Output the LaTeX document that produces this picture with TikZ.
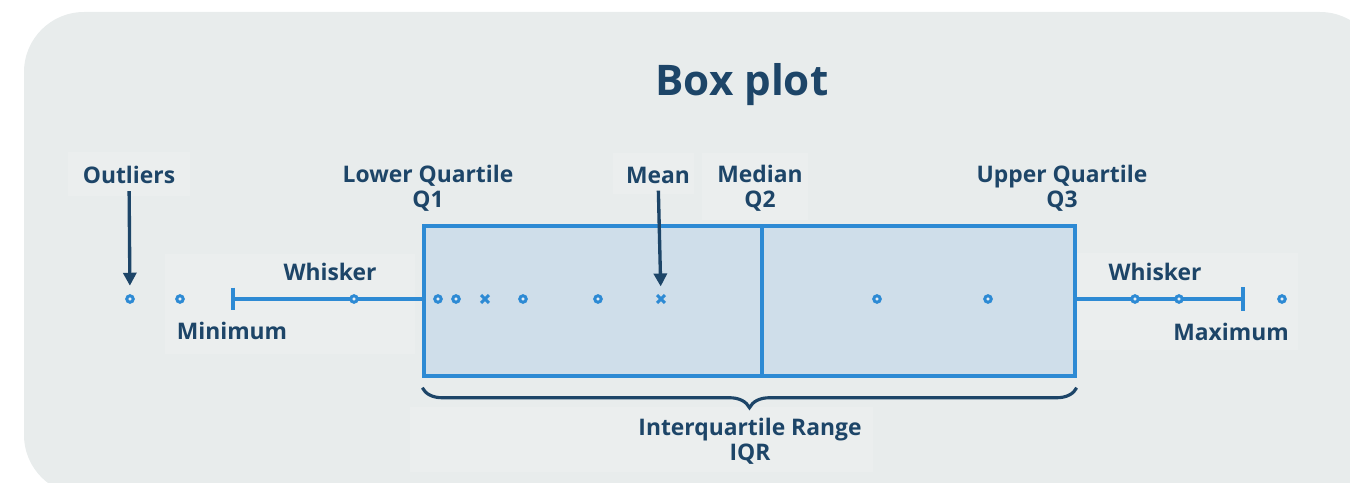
\documentclass[tikz,border=0pt]{standalone}
\usepackage{fontspec}
\setmainfont{Open Sans}
\usetikzlibrary{arrows.meta,shapes.misc,decorations.pathreplacing}
\definecolor{bggray}{HTML}{E8ECEC}
\definecolor{boxblue}{HTML}{CFDEEA}
\definecolor{lineblue}{HTML}{2D8AD4}
\definecolor{navy}{HTML}{1D4568}
\tikzset{
  lbl/.style={text=navy, font=\fontsize{13}{14.2}\selectfont\bfseries, align=center, inner sep=0pt},
  pt/.style={circle, draw=lineblue, fill=boxblue!50, line width=1.7pt, minimum size=0.13cm, inner sep=0pt},
  meanx/.style={cross out, draw=lineblue, line width=1.7pt, minimum size=0.1cm, inner sep=0pt},
  blueline/.style={draw=lineblue, line width=2pt},
  iqrbox/.style={draw=lineblue, fill=boxblue, line width=2pt, inner sep=0pt},
  pointer/.style={navy, line width=1.9pt, shorten <=4pt, shorten >=0.17cm, -{Triangle[length=0.26cm,width=0.26cm]}},
}

\begin{document}
\begin{tikzpicture}[x=0.02cm, y=-0.02cm]
	\useasboundingbox (0,0) rectangle (1350,483);
	\clip (0,0) rectangle (1350,483);
	\fill[bggray, rounded corners=1.2cm] (24,12) rectangle (1380,495);
	% faint label panels
	\foreach \a/\b/\c/\d in {68/152/190/196, 165/254/415/354, 613/153/694/194, 702/153/808/220, 410/407/873/472, 1077/253/1298/350}
		\fill[white, opacity=0.15] (\a,\b) rectangle (\c,\d);
	
	\node[lbl, font=\fontsize{24}{28}\selectfont\bfseries] (title) at (742,85) {Box plot};
	
	% box and median
	\node[iqrbox, minimum width=13.02cm, minimum height=3cm] (box) at (749.5,301) {};
	\coordinate (med) at (762,301);
	\draw[blueline] (box.north -| med) -- (box.south -| med);
	
	% whiskers
	\coordinate (minc) at (233,299);
	\coordinate (maxc) at (1243,299);
	\draw[blueline] (box.west |- minc) -- (minc);
	\draw[blueline] ([yshift=0.23cm]minc) -- ([yshift=-0.23cm]minc);
	\draw[blueline] (box.east |- maxc) -- (maxc);
	\draw[blueline] ([yshift=0.24cm]maxc) -- ([yshift=-0.24cm]maxc);
	
	% data points
	\foreach \x in {130,180,354,438,456,523,598,877,988,1135,1179,1282}
		\node[pt] (p\x) at (\x,299) {};
	\foreach \x in {485,661}
		\node[meanx] (m\x) at (\x,299) {};
	
	% labels
	\node[lbl] (outl) at (129,175) {Outliers};
	\node[lbl] (lowq) at (428,188) {Lower Quartile\\Q1};
	\node[lbl] (meanl) at (658,175) {Mean};
	\node[lbl] (medl) at (760,188) {Median\\Q2};
	\node[lbl] (upq) at (1062,188) {Upper Quartile\\Q3};
	\node[lbl] (whl) at (330,272) {Whisker};
	\node[lbl] (minl) at (232,331) {Minimum};
	\node[lbl] (whr) at (1155,272) {Whisker};
	\node[lbl] (maxl) at (1231,332) {Maximum};
	\node[lbl] (iqrl) at (750,441) {Interquartile Range\\IQR};
	
	\draw[pointer] (outl) -- (p130);
	\draw[pointer] (meanl) -- (m661);
	
	% interquartile brace
	\draw[navy, line width=1.8pt, decorate, decoration={brace, mirror, amplitude=0.4cm}]
		([yshift=-0.2cm]box.south west) -- ([yshift=-0.2cm]box.south east);
\end{tikzpicture}
\end{document}
